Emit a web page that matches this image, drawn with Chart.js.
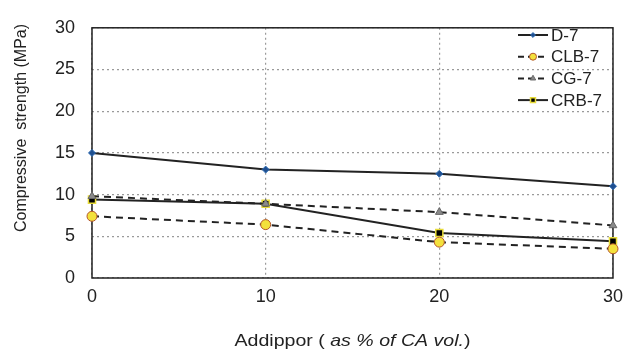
<!DOCTYPE html>
<html>
<head>
<meta charset="utf-8">
<script src="https://cdn.jsdelivr.net/npm/chart.js@4.4.1/dist/chart.umd.min.js"></script>
<style>
  html, body { margin: 0; padding: 0; background: #fff; }
  #wrap { position: relative; width: 631px; height: 360px; }
</style>
</head>
<body>
<div id="wrap"><canvas id="chart" width="631" height="360"></canvas></div>
<script>
var xValues = [0, 10, 20, 30];
var d7   = [15.0, 13.0, 12.5, 11.0];
var clb7 = [7.4, 6.4, 4.3, 3.5];
var cg7  = [9.8, 8.9, 7.9, 6.3];
var crb7 = [9.4, 8.9, 5.4, 4.4];
var yTicks = [0, 5, 10, 15, 20, 25, 30];

var FONT = '"Liberation Sans", Arial, sans-serif';

function pts(ys) {
  return xValues.map(function (x, i) { return { x: x, y: ys[i] }; });
}

var datasets = [
  {
    label: 'D-7', data: pts(d7),
    borderColor: '#222', borderWidth: 2,
    pointStyle: 'rectRot', pointRadius: 3.5,
    pointBackgroundColor: '#1f4f8f', pointBorderColor: '#2f6db5', pointBorderWidth: 1
  },
  {
    label: 'CLB-7', data: pts(clb7),
    borderColor: '#222', borderWidth: 2, borderDash: [7, 5],
    pointStyle: 'circle', pointRadius: 5,
    pointBackgroundColor: '#f3e13c', pointBorderColor: '#b4562a', pointBorderWidth: 1
  },
  {
    label: 'CG-7', data: pts(cg7),
    borderColor: '#222', borderWidth: 2, borderDash: [7, 5],
    pointStyle: 'triangle', pointRadius: 4.5,
    pointBackgroundColor: '#8a8a8a', pointBorderColor: '#666', pointBorderWidth: 1
  },
  {
    label: 'CRB-7', data: pts(crb7),
    borderColor: '#222', borderWidth: 2,
    pointStyle: 'rect', pointRadius: 5,
    pointBackgroundColor: '#000', pointBorderColor: '#e8dc3a', pointBorderWidth: 1.5
  }
];

// frame, in-plot legend, axis titles
var extras = {
  id: 'extras',
  beforeDatasetsDraw: function (chart) {
    var ctx = chart.ctx, a = chart.chartArea;
    ctx.save();
    ctx.strokeStyle = '#222';
    ctx.lineWidth = 1.5;
    ctx.strokeRect(a.left, a.top, a.right - a.left, a.bottom - a.top);
    ctx.restore();
  },
  afterDatasetsDraw: function (chart) {
    var ctx = chart.ctx, a = chart.chartArea;
    ctx.save();

    // legend
    ctx.font = '17px ' + FONT;
    ctx.textBaseline = 'middle';
    ctx.fillStyle = '#222';
    chart.data.datasets.forEach(function (ds, i) {
      var y = 35 + i * 21.7;
      ctx.save();
      ctx.strokeStyle = ds.borderColor;
      ctx.lineWidth = 2;
      ctx.setLineDash(ds.borderDash ? [6, 4] : []);
      ctx.beginPath();
      ctx.moveTo(518, y);
      ctx.lineTo(548, y);
      ctx.stroke();
      ctx.setLineDash([]);
      ctx.fillStyle = ds.pointBackgroundColor;
      ctx.strokeStyle = ds.pointBorderColor;
      ctx.lineWidth = ds.pointBorderWidth;
      Chart.helpers.drawPoint(ctx, { pointStyle: ds.pointStyle, radius: ds.pointRadius * 0.7, borderWidth: ds.pointBorderWidth, rotation: 0 }, 533, y);
      ctx.restore();
      ctx.fillText(ds.label, 551, y + 1);
    });

    // y axis title
    ctx.save();
    ctx.translate(22, 128);
    ctx.rotate(-Math.PI / 2);
    ctx.font = '16px ' + FONT;
    ctx.textAlign = 'center';
    ctx.textBaseline = 'middle';
    ctx.fillText('Compressive  strength (MPa)', 0, 0);
    ctx.restore();

    // x axis title, slightly wide type as in the original
    var parts = [
      { t: 'Addippor ( ', f: '17px ' + FONT },
      { t: 'as % of CA vol.', f: 'italic 17px ' + FONT },
      { t: ')', f: '17px ' + FONT }
    ];
    var total = 0;
    parts.forEach(function (p) { ctx.font = p.f; p.w = ctx.measureText(p.t).width; total += p.w; });
    var sx = 236 / total;
    ctx.save();
    ctx.translate((a.left + a.right) / 2 - 236 / 2, 341);
    ctx.scale(sx, 1);
    ctx.textBaseline = 'middle';
    var x = 0;
    parts.forEach(function (p) { ctx.font = p.f; ctx.fillText(p.t, x, 0); x += p.w; });
    ctx.restore();

    ctx.restore();
  }
};

new Chart(document.getElementById('chart'), {
  type: 'line',
  data: { datasets: datasets },
  options: {
    responsive: false,
    animation: false,
    layout: { padding: { left: 0, right: 16, top: 23, bottom: 0 } },
    plugins: { legend: { display: false }, tooltip: { enabled: false } },
    elements: { line: { tension: 0 } },
    datasets: { line: { clip: false } },
    scales: {
      x: {
        type: 'linear', min: 0, max: 30,
        grid: { color: '#9a9a9a', lineWidth: 1.2, drawTicks: false },
        border: { display: false, dash: [2, 3] },
        ticks: {
          stepSize: 10, padding: 8, color: '#222',
          font: { family: FONT, size: 18 }
        },
        afterFit: function (s) { s.height = 82; }
      },
      y: {
        min: 0, max: 30,
        grid: { color: '#9a9a9a', lineWidth: 1.2, drawTicks: false },
        border: { display: false, dash: [2, 3] },
        ticks: {
          stepSize: 5, padding: 17, color: '#222',
          font: { family: FONT, size: 18 },
          callback: function (v) { return yTicks.indexOf(v) >= 0 ? String(v) : ''; }
        },
        afterFit: function (s) { s.width = 92; }
      }
    }
  },
  plugins: [extras]
});
</script>
</body>
</html>
